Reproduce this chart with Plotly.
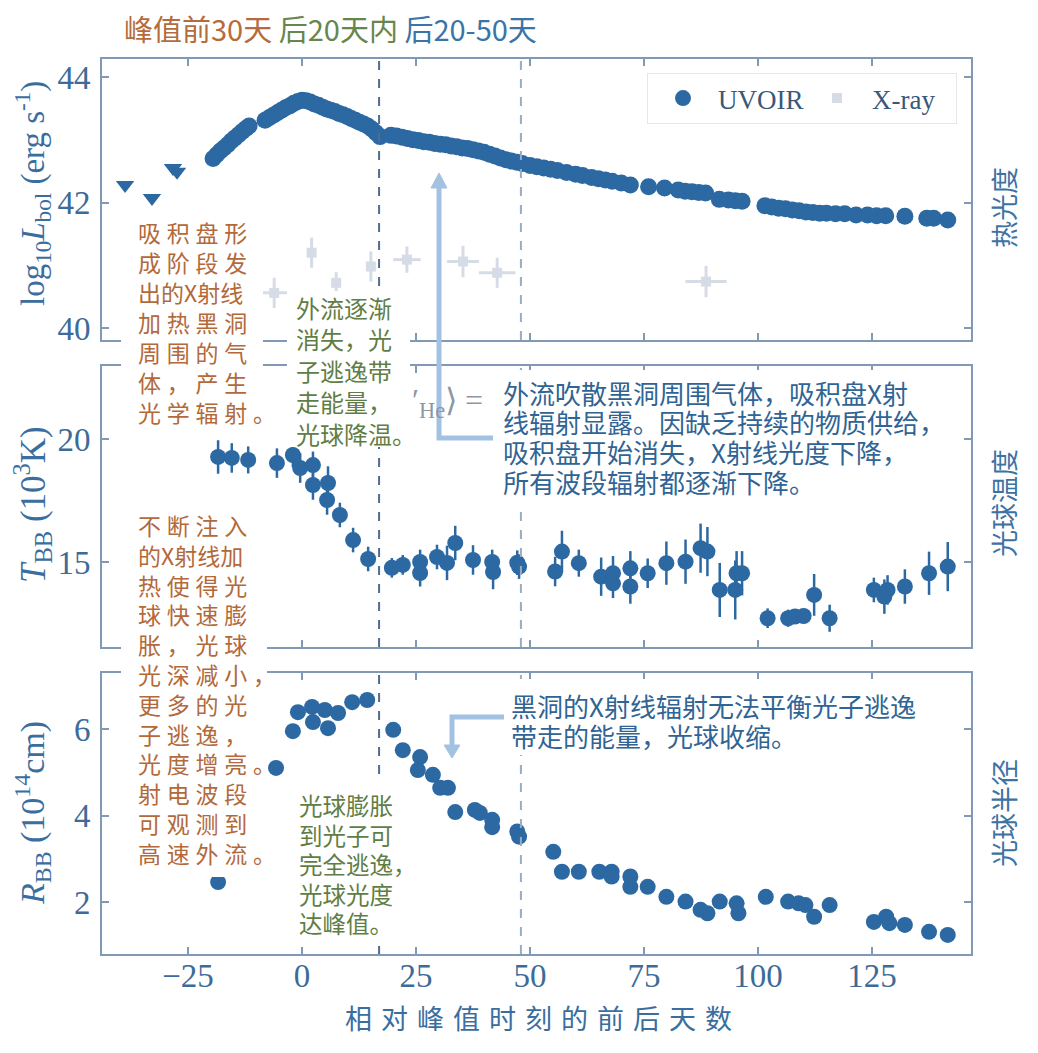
import plotly.graph_objects as go
from plotly.subplots import make_subplots

# ---------------- data ----------------
uv_day = [-19.5, -18.7, -17.9, -17.1, -16.3, -15.5, -14.7, -13.9, -13.1, -12.3, -11.6,
          -8.1, -7.2, -6.3, -5.4, -4.5, -3.6, -2.7, -1.8, -0.9, 0.0, 0.9, 1.8, 2.7, 3.6, 4.5,
          5.4, 6.3, 7.2, 8.1, 9.0, 9.9, 10.8, 11.7, 12.6, 13.5, 14.4, 15.3, 16.2, 17.1,
          19.5, 20.7, 21.9, 23.1, 24.3, 25.5, 26.7, 27.9, 29.1, 30.3, 31.5, 32.7, 33.9, 35.1,
          36.3, 37.5, 38.7, 39.9, 41.1, 42.3, 43.5, 44.7, 45.9, 47.1, 48.3,
          50.0, 51.5, 53.0, 54.5, 56.0, 58.0, 60.0, 61.5, 63.5, 65.0, 66.5, 68.0, 70.0, 72.0,
          76.0, 79.5, 82.5, 84.0, 85.5, 87.0, 88.5, 91.5, 93.5, 95.0, 96.5, 101.5, 103.0,
          104.5, 106.0, 107.5, 109.0, 110.5, 112.0, 113.5, 115.0, 117.0, 119.0, 121.5, 124.0,
          126.0, 128.0, 132.2, 137.0, 138.5, 141.6]
uv_L = [42.70, 42.76, 42.82, 42.87, 42.92, 42.98, 43.03, 43.08, 43.13, 43.18, 43.22,
        43.31, 43.35, 43.39, 43.43, 43.47, 43.51, 43.54, 43.58, 43.61, 43.63, 43.62, 43.60,
        43.57, 43.55, 43.52, 43.49, 43.47, 43.45, 43.42, 43.40, 43.37, 43.34, 43.31, 43.28,
        43.25, 43.22, 43.17, 43.11, 43.05,
        43.07, 43.06, 43.04, 43.02, 43.00, 42.99, 42.97, 42.96, 42.94, 42.93, 42.92, 42.90,
        42.89, 42.87, 42.86, 42.84, 42.82, 42.80, 42.77, 42.74, 42.71, 42.68, 42.66, 42.64, 42.62,
        42.59, 42.57, 42.55, 42.53, 42.51, 42.48, 42.45, 42.43, 42.40, 42.38, 42.36, 42.34,
        42.31, 42.28, 42.25, 42.23, 42.20, 42.18, 42.17, 42.16, 42.15, 42.05, 42.04, 42.03,
        42.02, 41.95, 41.93, 41.91, 41.90, 41.88, 41.87, 41.85, 41.84, 41.83, 41.83, 41.82,
        41.82, 41.80, 41.80, 41.79, 41.79, 41.78, 41.75, 41.75, 41.72]

ul_day = [-38.8, -32.9, -28.3, -27.4]
ul_L = [42.28, 42.07, 42.55, 42.49]

xr_day = [-6.1, 2.1, 7.5, 15.1, 23.0, 35.3, 42.8, 88.6]
xr_L = [40.56, 41.20, 40.72, 40.98, 41.09, 41.06, 40.88, 40.74]
xr_xerr = [3.6, 0.8, 0.8, 0.8, 3.0, 3.5, 4.0, 4.5]
xr_yerr = [0.24, 0.24, 0.17, 0.24, 0.21, 0.25, 0.24, 0.25]

T_day = [-18.4, -15.4, -11.8, -5.5, -2.0, -0.4, 2.4, 2.4, 5.7, 5.5, 8.3, 11.2, 14.5,
         19.7, 22.1, 25.9, 25.9, 29.6, 31.8, 33.6, 37.5, 41.7, 41.9, 47.2, 47.6, 55.5,
         57.0, 60.7, 65.6, 68.2, 68.2, 72.0, 72.0, 75.8, 79.9, 84.1, 87.4, 88.9, 91.6,
         95.0, 95.3, 96.5, 102.1, 106.6, 108.1, 110.0, 112.3, 115.7, 125.4, 127.7, 128.4,
         132.2, 137.5, 141.6]
T_val = [19.27, 19.23, 19.15, 19.02, 19.35, 18.82, 18.94, 18.13, 18.21, 17.52, 16.91,
         15.89, 15.12, 14.76, 14.88, 15.00, 14.55, 15.20, 14.96, 15.77, 15.08, 15.00, 14.59,
         14.97, 14.81, 14.61, 15.42, 14.95, 14.40, 14.54, 14.13, 14.74, 14.00, 14.54, 14.95,
         15.01, 15.56, 15.42, 13.86, 13.86, 14.54, 14.54, 12.71, 12.71, 12.78, 12.80, 13.66,
         12.71, 13.86, 13.59, 13.86, 14.00, 14.54, 14.81]
T_err = [0.68, 0.6, 0.55, 0.6, 0.5, 0.6, 0.55, 0.6, 0.68, 0.6, 0.5, 0.5, 0.5,
         0.4, 0.4, 0.5, 0.55, 0.5, 0.7, 0.7, 0.6, 0.5, 0.7, 0.5, 0.5, 0.6,
         0.85, 0.55, 0.78, 0.7, 0.6, 0.7, 0.7, 0.6, 0.88, 0.9, 1.0, 1.0, 1.1,
         1.2, 0.9, 0.9, 0.4, 0.35, 0.3, 0.3, 0.85, 0.55, 0.5, 0.7, 0.6,
         0.7, 0.88, 1.0]

R_day = [-18.4, -5.7, -2.0, -0.9, 2.2, 2.4, 5.0, 5.7, 7.9, 11.0, 14.3,
         20.0, 22.1, 25.9, 25.4, 28.7, 30.3, 32.0, 33.6, 37.9, 39.0, 41.7, 41.7,
         47.2, 47.6, 55.1, 57.0, 60.7, 65.2, 67.9, 67.9, 72.0, 72.0, 75.8, 79.9, 84.1,
         87.4, 88.9, 91.6, 95.3, 95.7, 101.7, 106.6, 108.9, 110.4, 112.3, 115.7,
         125.4, 128.1, 128.8, 132.2, 137.5, 141.6]
R_val = [2.46, 5.10, 5.95, 6.39, 6.51, 6.16, 6.44, 6.02, 6.37, 6.62, 6.67,
         5.98, 5.51, 5.35, 5.05, 4.94, 4.64, 4.64, 4.08, 4.13, 4.06, 3.90, 3.73,
         3.63, 3.51, 3.16, 2.70, 2.70, 2.70, 2.70, 2.59, 2.59, 2.35, 2.35, 2.12, 2.01,
         1.82, 1.74, 2.01, 1.97, 1.74, 2.12, 2.01, 1.97, 1.93, 1.66, 1.93,
         1.54, 1.66, 1.51, 1.47, 1.31, 1.24]
R_err = [0.1, 0.1, 0.12, 0.15, 0.15, 0.15, 0.12, 0.15, 0.12, 0.15, 0.15,
         0.15, 0.12, 0.12, 0.12, 0.12, 0.12, 0.12, 0.12, 0.12, 0.12, 0.1, 0.1,
         0.1, 0.1, 0.1, 0.08, 0.08, 0.08, 0.08, 0.08, 0.08, 0.08, 0.08, 0.08, 0.08,
         0.08, 0.08, 0.08, 0.08, 0.08, 0.08, 0.08, 0.08, 0.08, 0.08, 0.08,
         0.08, 0.08, 0.08, 0.08, 0.08, 0.08]

phase_lines = [16.9, 48.0]
x_ticks = [-25, 0, 25, 50, 75, 100, 125]

# ---------------- style ----------------
SERIF = "Liberation Serif, Times New Roman, serif"
CJK = "Noto Sans CJK SC, Noto Sans, sans-serif"
MARK = "#2c68a2"
XRAY = "#d6dce6"
AXC = "#8299b5"
TICKC = "#3d6b99"
ORANGE = "#b3693a"
GREEN = "#5f7e45"
BLUET = "#2f6494"
ARROW = "#a3c2e2"

# page has an 8px body margin: figure is 8px smaller and offset
OFF = 8
W, H = 1030, 1045
PL, PT, PR, PB = 102, 59, 971, 954          # plot area in page pixels
L_, T_ = PL - OFF, PT - OFF
R_ = W - (PR - OFF)
B_ = H - (PB - OFF)
PW, PH = PR - PL, PB - PT


def px(x):
    return (x - PL) / PW


def py(y):
    return (PB - y) / PH


fig = make_subplots(rows=3, cols=1, shared_xaxes=True, vertical_spacing=0.03)

fig.add_trace(go.Scatter(x=uv_day, y=uv_L, mode="markers", name="UVOIR",
                         marker=dict(color=MARK, size=17, line=dict(width=0)),
                         error_y=dict(type="constant", value=0.03, color=MARK, thickness=2, width=0)),
              row=1, col=1)
fig.add_trace(go.Scatter(x=ul_day, y=ul_L, mode="markers", showlegend=False,
                         marker=dict(color=MARK, size=16, symbol="triangle-down", line=dict(width=0))),
              row=1, col=1)
fig.add_trace(go.Scatter(x=xr_day, y=xr_L, mode="markers", name="X-ray",
                         marker=dict(color=XRAY, size=10, symbol="square", line=dict(width=0)),
                         error_x=dict(type="data", array=xr_xerr, color=XRAY, thickness=3, width=0),
                         error_y=dict(type="data", array=xr_yerr, color=XRAY, thickness=3, width=0)),
              row=1, col=1)
fig.add_trace(go.Scatter(x=T_day, y=T_val, mode="markers", showlegend=False,
                         marker=dict(color=MARK, size=16, line=dict(width=0)),
                         error_y=dict(type="data", array=T_err, color=MARK, thickness=2.5, width=0)),
              row=2, col=1)
fig.add_trace(go.Scatter(x=R_day, y=R_val, mode="markers", showlegend=False,
                         marker=dict(color=MARK, size=16, line=dict(width=0)),
                         error_y=dict(type="data", array=R_err, color=MARK, thickness=2.5, width=0)),
              row=3, col=1)

axis_common = dict(showline=True, linecolor=AXC, linewidth=2, mirror="ticks",
                   ticks="inside", ticklen=7, tickwidth=1.5, tickcolor=AXC,
                   showgrid=False, zeroline=False, automargin=False,
                   tickfont=dict(family=SERIF, size=33, color=TICKC))

doms = [[py(340), 1.0], [py(647), py(366)], [0.0, py(673)]]
yranges = [[39.809, 44.287], [11.54, 22.97], [0.798, 7.295]]
yticks = [[40, 42, 44], [15, 20], [2, 4, 6]]
for i in range(3):
    sfx = "" if i == 0 else str(i + 1)
    fig.layout["xaxis" + sfx].update(range=[-43.86, 146.7], tickvals=x_ticks,
                                     ticklabelstandoff=-9, **axis_common)
    fig.layout["yaxis" + sfx].update(domain=doms[i], range=yranges[i], tickvals=yticks[i],
                                     ticklabelstandoff=3, **axis_common)

# vertical dashed phase lines, one per panel
for k, xv in enumerate(phase_lines):
    col = "#526c8d" if k == 0 else "#9aacc1"
    for yr in ["y domain", "y2 domain", "y3 domain"]:
        fig.add_shape(type="line", xref="x", yref=yr, x0=xv, x1=xv, y0=0, y1=1,
                      line=dict(color=col, width=2, dash="dash"), layer="above")

# white boxes behind the explanatory texts
boxes = [(121, 212, 263, 425), (121, 505, 267, 877), (287, 291, 410, 447),
         (287, 780, 410, 946), (497, 370, 925, 505), (505, 679, 915, 755)]
for (x0, y0, x1, y1) in boxes:
    fig.add_shape(type="rect", xref="paper", yref="paper", x0=px(x0), x1=px(x1),
                  y0=py(y1), y1=py(y0), fillcolor="white", line=dict(width=0), layer="above")

# arrows (L shaped)
fig.add_shape(type="path", xref="paper", yref="paper", layer="above",
              path=f"M {px(493)},{py(438)} L {px(439)},{py(438)} L {px(439)},{py(186)}",
              line=dict(color=ARROW, width=5))
fig.add_shape(type="path", xref="paper", yref="paper", layer="above",
              path=f"M {px(431)},{py(188)} L {px(447)},{py(188)} L {px(439)},{py(173)} Z",
              fillcolor=ARROW, line=dict(color=ARROW, width=1))
fig.add_shape(type="path", xref="paper", yref="paper", layer="above",
              path=f"M {px(504)},{py(717)} L {px(452)},{py(717)} L {px(452)},{py(746)}",
              line=dict(color=ARROW, width=5))
fig.add_shape(type="path", xref="paper", yref="paper", layer="above",
              path=f"M {px(444)},{py(745)} L {px(460)},{py(745)} L {px(452)},{py(758)} Z",
              fillcolor=ARROW, line=dict(color=ARROW, width=1))


def ann(text, x, y, size, color, family=CJK, xanchor="left", yanchor="middle", angle=0):
    fig.add_annotation(xref="paper", yref="paper", x=px(x), y=py(y), text=text,
                       showarrow=False, xanchor=xanchor, yanchor=yanchor, textangle=angle,
                       font=dict(size=size, color=color, family=family))


def block(lines, x, y0, dy, size, color):
    for i, t in enumerate(lines):
        ann(t, x, y0 + i * dy, size, color)


S = "\u2005"


def sp(s):
    return S.join(s)


orange_top = [sp("吸积盘形"), sp("成阶段发"), "出的X射线", sp("加热黑洞"),
              sp("周围的气"), sp("体，产生"), sp("光学辐射。")]
orange_bot = [sp("不断注入"), "的X射线加", sp("热使得光"), sp("球快速膨"), sp("胀，光球"),
              sp("光深减小，"), sp("更多的光"), sp("子逃逸，"), sp("光度增亮。"),
              sp("射电波段"), sp("可观测到"), sp("高速外流。")]
green_top = ["外流逐渐", "消失，光", "子逃逸带", "走能量，", "光球降温。"]
green_bot = ["光球膨胀", "到光子可", "完全逃逸，", "光球光度", "达峰值。"]
blue_mid = ["外流吹散黑洞周围气体，吸积盘X射", "线辐射显露。因缺乏持续的物质供给，",
            "吸积盘开始消失，X射线光度下降，", "所有波段辐射都逐渐下降。"]
blue_bot = ["黑洞的X射线辐射无法平衡光子逃逸", "带走的能量，光球收缩。"]

block(orange_top, 136, 232, 30, 23, ORANGE)
block(orange_bot, 136, 525, 29.8, 23, ORANGE)
block(green_top, 294, 307, 31.5, 24, GREEN)
block(green_bot, 297, 805, 29.5, 23.5, GREEN)
block(blue_mid, 501, 392, 29.7, 26, BLUET)
block(blue_bot, 509, 705, 30, 26, BLUET)

# partially hidden fragment of the original formula
ann("′<sub>He</sub>⟩ =", 410, 402, 32, "#8d97a6", family=SERIF)

# title with three coloured phrases
ann("<span style='color:#b56c3c'>峰值前30天</span> "
    "<span style='color:#67864b'>后20天内</span> "
    "<span style='color:#3b74a6'>后20-50天</span>", 122, 28, 29, ORANGE)

# axis titles
ann("log<sub>10</sub><i>L</i><sub>bol</sub> (erg s<sup>-1</sup>)", 32, 194, 33, "#3a6e9f",
    family=SERIF, xanchor="center", angle=-90)
ann("<i>T</i><sub>BB</sub> (10<sup>3</sup>K)", 32, 505, 35, "#3a6e9f",
    family=SERIF, xanchor="center", angle=-90)
ann("<i>R</i><sub>BB</sub> (10<sup>14</sup>cm)", 32, 813, 34, "#3a6e9f",
    family=SERIF, xanchor="center", angle=-90)
ann("\u2004".join("相对峰值时刻的前后天数"), 538, 1018, 27, "#3a6e9f", xanchor="center")

# right-hand panel names
ann("热光度", 1003, 208, 27, "#3d72a3", xanchor="center", angle=-90)
ann("光球温度", 1003, 503, 27, "#3d72a3", xanchor="center", angle=-90)
ann("光球半径", 1003, 813, 27, "#3d72a3", xanchor="center", angle=-90)

fig.update_layout(
    width=W, height=H, margin=dict(l=L_, r=R_, t=T_, b=B_),
    paper_bgcolor="white", plot_bgcolor="white",
    legend=dict(orientation="h", x=px(957), xanchor="right", y=py(73), yanchor="top",
                bgcolor="white", bordercolor="#e3e6ea", borderwidth=1,
                itemwidth=60, entrywidth=79, entrywidthmode="pixels",
                font=dict(family=SERIF, size=27, color="#3a5878")),
)

fig.write_html("out.html")
